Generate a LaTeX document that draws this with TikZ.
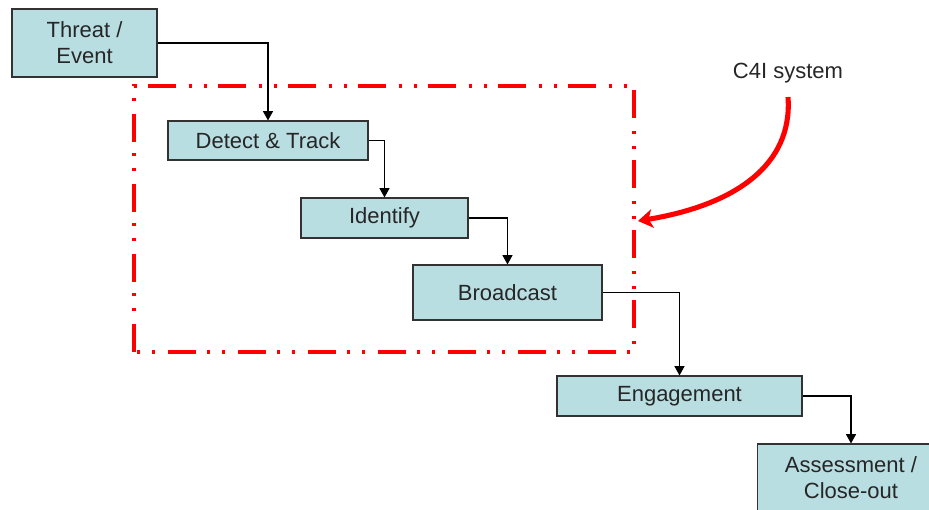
\documentclass[tikz,border=0pt]{standalone}
\usepackage{fontspec}
\setmainfont{Liberation Sans}
\usetikzlibrary{arrows.meta}
\definecolor{colBox}{RGB}{185,222,226}
\definecolor{colEdge}{RGB}{50,50,50}
\definecolor{colRed}{RGB}{255,0,0}
\colorlet{colText}{black!85!white}
\tikzstyle{stage}=[draw=colEdge, fill=colBox, line width=0.8pt, align=center, text=colText, font=\fontsize{16.5}{19.5}\selectfont, inner sep=0pt]
\tikzstyle{conn}=[line width=0.9pt, black, -{Triangle[width=7.5pt,length=7pt]}]
\tikzstyle{redbox}=[line width=2.3pt, colRed, dash pattern=on 21pt off 10pt on 2pt off 9pt on 2pt off 8.5pt]
\tikzstyle{redarrow}=[line width=3.8pt, colRed, -{Stealth[width=14pt,length=11pt,inset=3pt]}]

\begin{document}
\begin{tikzpicture}[x=0.75pt, y=-0.75pt]
	\useasboundingbox (0,0) rectangle (929,510);
	\clip (0,0) rectangle (929,510);

	%%% Stages
	\node[stage, minimum width=108.75pt, minimum height=51pt]    (threat)   at (84.5, 43.0)  {Threat /\\Event};
	\node[stage, minimum width=150pt,    minimum height=29.25pt] (detect)   at (268.0, 140.5) {Detect \& Track};
	\node[stage, minimum width=125.25pt, minimum height=30pt]    (identify) at (384.5, 218.0) {Identify};
	\node[stage, minimum width=141.75pt, minimum height=41.25pt] (bcast)    at (507.5, 292.5) {Broadcast};
	\node[stage, minimum width=183.75pt, minimum height=30pt]    (engage)   at (679.5, 396.0) {Engagement};
	\node[stage, minimum width=140pt,    minimum height=51pt]    (assess)   at (851.0, 478.0) {Assessment /\\Close-out};

	%%% Connectors
	\draw[conn] (threat.east)   -| (detect.north);
	\draw[conn] (detect.east)   -| (identify.north);
	\draw[conn] (identify.east) -| (bcast.north);
	\draw[conn] (bcast.east)    -| (engage.north);
	\draw[conn] (engage.east)   -| (assess.north);

	%%% C4I frame
	\coordinate (boxSW) at (134, 352);
	\coordinate (boxNE) at (634, 86);
	\draw[redbox] (boxSW) rectangle (boxNE);

	% Label and pointer
	\node[text=colText, font=\fontsize{16.5}{19.5}\selectfont] (c4i) at (788, 73) {C4I system};
	\coordinate (tip) at (638, 221);
	\draw[redarrow] ([yshift=-7pt]c4i.south) .. controls (793, 165) and (735, 205) .. (tip);
\end{tikzpicture}
\end{document}
